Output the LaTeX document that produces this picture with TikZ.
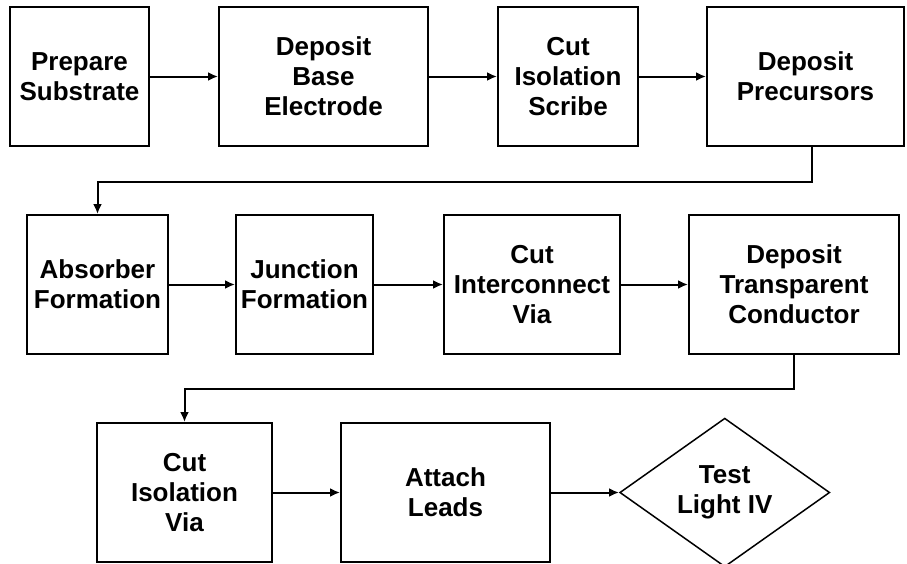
\documentclass[tikz,border=0pt]{standalone}
\usepackage{fontspec}
\setmainfont{Liberation Sans}
\usetikzlibrary{arrows.meta,positioning,shapes.geometric}
\tikzset{
  block/.style={draw=black, line width=2pt, rectangle, align=center, inner sep=0pt,
    minimum height=139pt, font=\bfseries\fontsize{26}{30}\selectfont},
  decision/.style={draw=black, line width=1.5pt, diamond, align=center, inner sep=0pt,
    minimum width=210pt, minimum height=139pt, font=\bfseries\fontsize{26}{30}\selectfont},
  arrow/.style={-{Latex[length=10pt,width=9pt]}, line width=2pt, draw=black}
}
\begin{document}
\begin{tikzpicture}[x=1pt,y=-1pt]
  \useasboundingbox (0,0) rectangle (907,563);
  % first row
  \node[block, minimum width=139pt] (prep) at (79.5,76.5) {Prepare\\Substrate};
  \node[block, minimum width=209pt, right=68pt of prep] (base) {Deposit\\Base\\Electrode};
  \node[block, minimum width=140pt, right=68pt of base] (scribe) {Cut\\Isolation\\Scribe};
  \node[block, minimum width=197pt, right=67pt of scribe] (precur) {Deposit\\Precursors};
  \draw[arrow] (prep)--(base); \draw[arrow] (base)--(scribe); \draw[arrow] (scribe)--(precur);

  % second row
  \node[block, minimum width=141pt] (absorb) at (97.5,284.5) {Absorber\\Formation};
  \node[block, minimum width=137pt, right=66pt of absorb] (junct) {Junction\\Formation};
  \node[block, minimum width=176pt, right=69pt of junct] (icvia) {Cut\\Interconnect\\Via};
  \node[block, minimum width=210pt, right=67pt of icvia] (tco) {Deposit\\Transparent\\Conductor};
  \draw[arrow] (absorb)--(junct); \draw[arrow] (junct)--(icvia); \draw[arrow] (icvia)--(tco);
  \draw[arrow] ([xshift=6pt]precur.south) -- ++(0,35) -| (absorb.north);

  % third row
  \node[block, minimum width=175pt] (isovia) at (184.5,492.5) {Cut\\Isolation\\Via};
  \node[block, minimum width=209pt, right=67pt of isovia] (leads) {Attach\\Leads};
  \node[decision, right=68pt of leads] (test) {Test\\Light IV};
  \draw[arrow] (isovia)--(leads); \draw[arrow] (leads)--(test);
  \draw[arrow] (tco.south) -- ++(0,34) -| (isovia.north);
\end{tikzpicture}
\end{document}
